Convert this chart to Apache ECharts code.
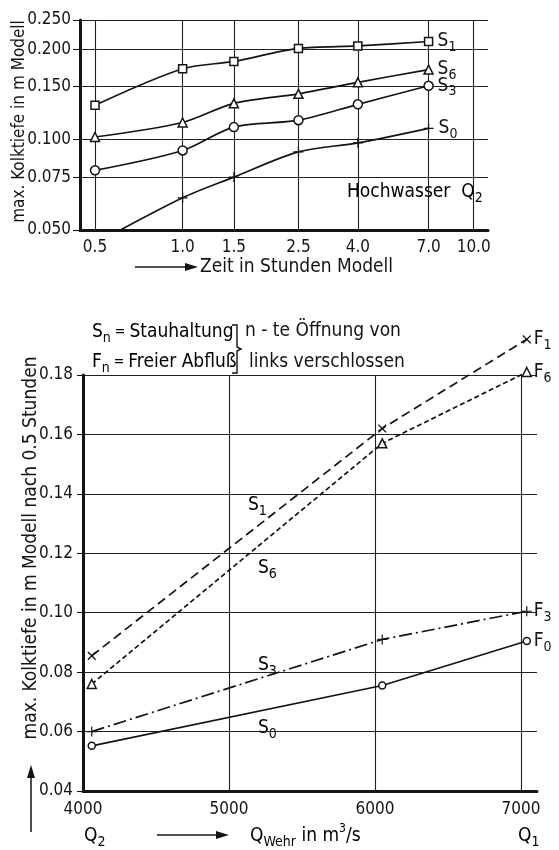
<!DOCTYPE html>
<html><head><meta charset="utf-8">
<script src="https://cdn.jsdelivr.net/npm/echarts@6/dist/echarts.min.js"></script>
<style>html,body{margin:0;padding:0;background:#fff}#c{width:559px;height:850px}</style>
</head><body><div id="c"></div>
<script>
// ---------- Top chart data (Hochwasser Q2) ----------
const topTimes  = [0.5, 1.0, 1.5, 2.5, 4.0, 7.0];
const topXTicks = [0.5, 1.0, 1.5, 2.5, 4.0, 7.0, 10.0];
const topYTicks = [0.05, 0.075, 0.1, 0.15, 0.2, 0.25];
const topS1 = [0.130, 0.172, 0.182, 0.201, 0.205, 0.212];
const topS6 = [0.102, 0.114, 0.132, 0.142, 0.155, 0.171];
const topS3 = [0.079, 0.092, 0.110, 0.116, 0.131, 0.151];
const topS0 = [0.045, 0.064, 0.075, 0.091, 0.0975, 0.109];
// ---------- Bottom chart data ----------
const qWehr = [4060, 6050, 7040];
const bottomXTicks = [4000, 5000, 6000, 7000];
const botF1 = [0.0855, 0.162, 0.192];
const botF6 = [0.076, 0.157, 0.181];
const botF3 = [0.060, 0.091, 0.1005];
const botF0 = [0.0552, 0.0755, 0.0905];

const INK = '#141414';
const FONT = "'Liberation Sans Narrow','DejaVu Sans Condensed',sans-serif";
const RICH = {
  m: {fontSize: 19, fontFamily: FONT, color: INK, lineHeight: 26},
  e: {fontSize: 14, fontFamily: FONT, color: INK, lineHeight: 26},
  u: {fontSize: 14, fontFamily: FONT, color: INK, lineHeight: 14, verticalAlign: 'bottom'},
  p: {fontSize: 12, fontFamily: FONT, color: INK, lineHeight: 12, verticalAlign: 'top'}
};
const PLUS = 'path://M4.4,0H5.6V4.4H10V5.6H5.6V10H4.4V5.6H0V4.4H4.4Z';

const chart = echarts.init(document.getElementById('c'), null, {renderer: 'canvas'});

function sub(main, s) { return '{m|' + main + '}{u|' + s + '}'; }

function lineSeries(opt) {
  const filledSym = opt.symbol === PLUS;
  const s = {
    type: 'line', xAxisIndex: opt.g, yAxisIndex: opt.g,
    data: opt.data, symbol: opt.symbol, symbolSize: opt.size, symbolRotate: opt.rotate || 0,
    showAllSymbol: true, smooth: opt.smooth || false, clip: opt.g === 0, animation: false,
    lineStyle: {color: INK, width: 1.7, type: opt.type || 'solid'},
    itemStyle: filledSym ? {color: INK, borderWidth: 0} : {color: '#fff', borderColor: INK, borderWidth: 1.5},
    endLabel: {show: true, distance: opt.dist || 8, formatter: () => opt.label, rich: RICH},
    emphasis: {disabled: true}, z: 3
  };
  if (opt.markLine) s.markLine = opt.markLine;
  return s;
}

const topData = (vals) => topTimes.map((t, i) => [t, vals[i]]);
const s0Data = topData(topS0).map((d, i) => i === 0 ? {value: d, symbol: 'none'} : d);
const botData = (vals) => qWehr.map((q, i) => [q, vals[i]]);

const gridLine = {show: true, lineStyle: {color: '#222', width: 1.1}};
const numStyle = {fontSize: 17, fontFamily: FONT, color: INK};

// extensions of the frame above the top gridline of the lower chart
const frameExt = {
  silent: true, symbol: 'none', animation: false, label: {show: false},
  data: [
    [{coord: [7000, 0.18], lineStyle: {color: '#222', width: 1.1, type: 'solid'}}, {coord: [7000, 0.194]}],
    [{coord: [4000, 0.18], lineStyle: {color: INK, width: 3, type: 'solid'}}, {coord: [4000, 0.1865]}]
  ]
};

const option = {
  backgroundColor: '#fff',
  grid: [
    {left: 80, top: 20, width: 408, height: 210, containLabel: false, outerBoundsMode: 'none'},
    {left: 83, top: 375, width: 454, height: 416, containLabel: false, outerBoundsMode: 'none'}
  ],
  xAxis: [
    {type: 'log', gridIndex: 0, min: 0.444, max: 11.2,
     axisLine: {show: true, onZero: false, lineStyle: {color: INK, width: 3}},
     axisTick: {show: false, customValues: topXTicks},
     minorTick: {show: false}, minorSplitLine: {show: false},
     axisLabel: Object.assign({customValues: topXTicks, margin: 9, formatter: v => v.toFixed(1)}, numStyle),
     splitLine: gridLine},
    {type: 'value', gridIndex: 1, min: 4000, max: 7110,
     axisLine: {show: true, onZero: false, lineStyle: {color: INK, width: 3}},
     axisTick: {show: false, customValues: bottomXTicks},
     axisLabel: Object.assign({customValues: bottomXTicks, margin: 10, formatter: v => String(v)}, numStyle),
     splitLine: gridLine}
  ],
  yAxis: [
    {type: 'log', gridIndex: 0, min: 0.05, max: 0.25,
     name: 'max. Kolktiefe in m Modell', nameLocation: 'middle', nameRotate: 90, nameGap: 52, nameMoveOverlap: false,
     nameTextStyle: {fontSize: 17, fontFamily: FONT, color: INK, padding: [0, 0, 0, 7]},
     axisLine: {show: true, onZero: false, lineStyle: {color: INK, width: 3}},
     axisTick: {show: true, length: 7, customValues: topYTicks, lineStyle: {color: INK, width: 1.1}},
     minorTick: {show: false}, minorSplitLine: {show: false},
     axisLabel: Object.assign({customValues: topYTicks, margin: 9, formatter: v => v.toFixed(3)}, numStyle),
     splitLine: gridLine},
    {type: 'value', gridIndex: 1, min: 0.04, max: 0.18, interval: 0.02,
     name: 'max. Kolktiefe in m Modell nach 0.5 Stunden', nameLocation: 'middle', nameRotate: 90, nameGap: 42, nameMoveOverlap: false,
     nameTextStyle: {fontSize: 19, fontFamily: FONT, color: INK, padding: [0, 0, 0, 70]},
     axisLine: {show: true, onZero: false, lineStyle: {color: INK, width: 3}},
     axisTick: {show: true, length: 6, lineStyle: {color: INK, width: 1.1}},
     axisLabel: Object.assign({margin: 10, formatter: v => v.toFixed(2)}, numStyle),
     splitLine: gridLine}
  ],
  series: [
    lineSeries({g: 0, data: topData(topS1), symbol: 'rect', size: 8, smooth: 0.3, label: sub('S', '1'), dist: 9}),
    lineSeries({g: 0, data: topData(topS6), symbol: 'triangle', size: 9, smooth: 0.3, label: sub('S', '6'), dist: 9}),
    lineSeries({g: 0, data: topData(topS3), symbol: 'circle', size: 9, smooth: 0.3, label: sub('S', '3'), dist: 9}),
    lineSeries({g: 0, data: s0Data, symbol: PLUS, size: 10, smooth: 0.3, label: sub('S', '0'), dist: 10}),
    lineSeries({g: 1, data: botData(botF1), symbol: PLUS, size: 11, rotate: 45, type: [9, 5], label: sub('F', '1'), dist: 7}),
    lineSeries({g: 1, data: botData(botF6), symbol: 'triangle', size: 9, type: [5, 3], label: sub('F', '6'), dist: 7}),
    lineSeries({g: 1, data: botData(botF3), symbol: PLUS, size: 10, type: [13, 4, 2, 4], label: sub('F', '3'), dist: 7}),
    lineSeries({g: 1, data: botData(botF0), symbol: 'circle', size: 7, label: sub('F', '0'), dist: 7, markLine: frameExt})
  ],
  graphic: [
    // top x-axis name with arrow
    {type: 'line', shape: {x1: 135, y1: 267, x2: 190, y2: 267}, style: {stroke: INK, lineWidth: 1.5}},
    {type: 'polygon', shape: {points: [[198, 267], [185, 263], [185, 271]]}, style: {fill: INK}},
    {type: 'text', style: {x: 200, y: 267, text: 'Zeit in Stunden Modell', font: '19px ' + FONT, fill: INK, textVerticalAlign: 'middle'}},
    {type: 'text', style: {x: 347, y: 192, text: '{m|Hochwasser  Q}{u|2}', rich: RICH, textVerticalAlign: 'middle'}},
    // legend header of bottom chart
    {type: 'text', style: {x: 92, y: 332, text: '{m|S}{u|n}{e| = }{m|Stauhaltung}', rich: RICH, textVerticalAlign: 'middle'}},
    {type: 'text', style: {x: 92, y: 362, text: '{m|F}{u|n}{e| = }{m|Freier Abfluß}', rich: RICH, textVerticalAlign: 'middle'}},
    {type: 'polyline', shape: {points: [[232, 325], [237, 325], [237, 347], [241, 349], [237, 351], [237, 373], [232, 373]]}, style: {stroke: INK, lineWidth: 1.4, fill: null}},
    {type: 'text', style: {x: 245, y: 331, text: 'n - te Öffnung von', font: '19px ' + FONT, fill: INK, textVerticalAlign: 'middle'}},
    {type: 'text', style: {x: 249, y: 362, text: 'links verschlossen', font: '19px ' + FONT, fill: INK, textVerticalAlign: 'middle'}},
    // series annotations inside bottom chart
    {type: 'text', style: {x: 248, y: 505, text: sub('S', '1'), rich: RICH, textVerticalAlign: 'middle'}},
    {type: 'text', style: {x: 258, y: 568, text: sub('S', '6'), rich: RICH, textVerticalAlign: 'middle'}},
    {type: 'text', style: {x: 258, y: 665, text: sub('S', '3'), rich: RICH, textVerticalAlign: 'middle'}},
    {type: 'text', style: {x: 258, y: 728, text: sub('S', '0'), rich: RICH, textVerticalAlign: 'middle'}},
    // bottom x-axis name
    {type: 'text', style: {x: 84, y: 836, text: sub('Q', '2'), rich: RICH, textVerticalAlign: 'middle'}},
    {type: 'text', style: {x: 518, y: 836, text: sub('Q', '1'), rich: RICH, textVerticalAlign: 'middle'}},
    {type: 'line', shape: {x1: 157, y1: 835, x2: 220, y2: 835}, style: {stroke: INK, lineWidth: 1.5}},
    {type: 'polygon', shape: {points: [[229, 835], [216, 831], [216, 839]]}, style: {fill: INK}},
    {type: 'text', style: {x: 250, y: 836, text: '{m|Q}{u|Wehr}{m| in m}{p|3}{m|/s}', rich: RICH, textVerticalAlign: 'middle'}},
    // vertical arrow at bottom-left
    {type: 'line', shape: {x1: 31, y1: 832, x2: 31, y2: 775}, style: {stroke: INK, lineWidth: 1.5}},
    {type: 'polygon', shape: {points: [[31, 765], [27, 778], [35, 778]]}, style: {fill: INK}}
  ]
};
chart.setOption(option);
</script>
</body></html>
